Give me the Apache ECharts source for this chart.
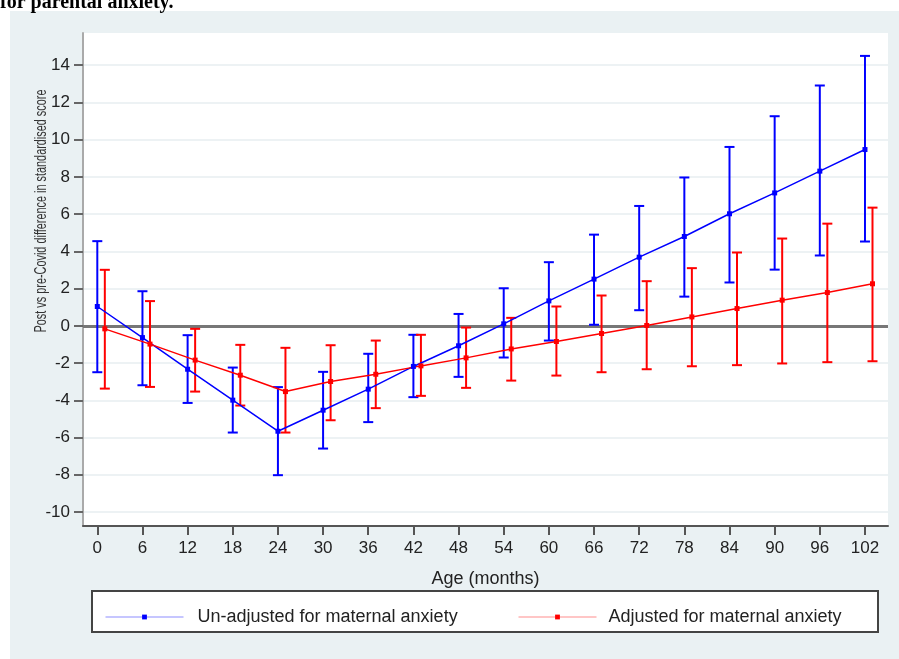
<!DOCTYPE html>
<html><head><meta charset="utf-8">
<script src="https://cdn.jsdelivr.net/npm/echarts@6/dist/echarts.min.js"></script>
<style>html,body{margin:0;padding:0;background:#fff;}#c{width:899px;height:659px;}</style>
</head><body><div id="c"></div>
<script>
const ages = [0,6,12,18,24,30,36,42,48,54,60,66,72,78,84,90,96,102];
const unadjMean = [1.04,-0.63,-2.33,-3.99,-5.66,-4.53,-3.40,-2.18,-1.07,0.11,1.34,2.51,3.69,4.80,6.02,7.14,8.31,9.47];
const unadjHigh = [4.55,1.86,-0.50,-2.24,-3.29,-2.47,-1.50,-0.48,0.64,2.02,3.42,4.90,6.44,7.97,9.61,11.26,12.91,14.50];
const unadjLow  = [-2.49,-3.19,-4.14,-5.73,-8.02,-6.59,-5.17,-3.83,-2.74,-1.70,-0.79,0.06,0.84,1.57,2.33,3.02,3.78,4.53];
const adjMean = [-0.16,-0.98,-1.84,-2.65,-3.53,-2.99,-2.60,-2.15,-1.72,-1.24,-0.84,-0.41,0.02,0.48,0.93,1.38,1.79,2.26];
const adjHigh = [3.01,1.33,-0.16,-1.02,-1.18,-1.04,-0.79,-0.48,-0.09,0.43,1.04,1.63,2.40,3.10,3.94,4.69,5.49,6.35];
const adjLow  = [-3.37,-3.28,-3.53,-4.28,-5.73,-5.07,-4.42,-3.76,-3.33,-2.94,-2.67,-2.49,-2.33,-2.17,-2.11,-2.02,-1.95,-1.90];
const yTicks = [-10,-8,-6,-4,-2,0,2,4,6,8,10,12,14];
const xTicks = ages;
const seriesNames = ['Un-adjusted for maternal anxiety','Adjusted for maternal anxiety'];
const titleText = 'for parental anxiety.';
const yAxisTitle = 'Post vs pre-Covid difference in standardised score';
const xAxisTitle = 'Age (months)';

const RED_OFFSET = 1;
const FONT = 'Liberation Sans, Arial, sans-serif';
const BLUE = '#0000ff', RED = '#ff0000';

function errItem(color){
  return function(params, api){
    const x = api.value(0);
    const lo = api.coord([x, api.value(1)]);
    const hi = api.coord([x, api.value(2)]);
    const w = 5;
    const st = {stroke: color, lineWidth: 2};
    return {type:'group', children:[
      {type:'line', shape:{x1:lo[0],y1:lo[1],x2:hi[0],y2:hi[1]}, style:st},
      {type:'line', shape:{x1:hi[0]-w,y1:hi[1],x2:hi[0]+w,y2:hi[1]}, style:st},
      {type:'line', shape:{x1:lo[0]-w,y1:lo[1],x2:lo[0]+w,y2:lo[1]}, style:st}
    ]};
  };
}

const chart = echarts.init(document.getElementById('c'), null, {renderer:'canvas'});
chart.setOption({
  animation:false,
  backgroundColor:'#ffffff',
  textStyle:{fontFamily:FONT},
  graphic:[
    {type:'rect', z:-10, shape:{x:10,y:11,width:889,height:648}, style:{fill:'#eaf1f3'}},
    {type:'text', left:0, top:-7, style:{text:titleText, font:'bold 20px "Liberation Serif", "Times New Roman", serif', fill:'#000'}},
    {type:'text', x:42, y:211, rotation:Math.PI/2, scaleX:0.68, style:{text:yAxisTitle, font:'16px '+FONT, fill:'#333', align:'center', verticalAlign:'middle'}},
    {type:'rect', z:-5, shape:{x:92,y:591,width:786,height:41}, style:{fill:'#fff', stroke:'#444', lineWidth:2}}
  ],
  grid:{left:83, top:33, right:11, bottom:133, show:true, backgroundColor:'#fff', borderWidth:0},
  legend:[
    {data:[seriesNames[0]], left:100, top:603, itemWidth:78, itemHeight:6, lineStyle:{width:1, opacity:0.45}, textStyle:{fontSize:18, color:'#222', fontFamily:FONT, padding:[0,0,0,9]}},
    {data:[seriesNames[1]], left:513, top:603, itemWidth:78, itemHeight:6, lineStyle:{width:1, opacity:0.45}, textStyle:{fontSize:18, color:'#222', fontFamily:FONT, padding:[0,0,0,7]}}
  ],
  xAxis:{type:'value', min:-1.9, max:105.06,
    name:xAxisTitle, nameLocation:'middle', nameGap:44, nameTextStyle:{fontSize:18, color:'#222'},
    axisLine:{onZero:false, lineStyle:{color:'#555', width:2}},
    axisTick:{customValues:xTicks, length:9, lineStyle:{color:'#555', width:2}},
    axisLabel:{customValues:xTicks, fontSize:17, color:'#222', margin:14},
    splitLine:{show:false}},
  yAxis:{type:'value', min:-10.75, max:15.73,
    axisLine:{show:true, onZero:false, lineStyle:{color:'#aaa', width:2}},
    axisTick:{show:true, customValues:yTicks, length:9, lineStyle:{color:'#666', width:2}},
    axisLabel:{customValues:yTicks, fontSize:17, color:'#222', margin:13},
    splitLine:{show:true, lineStyle:{color:'#edf2f4', width:2}}},
  series:[
    {name:seriesNames[0], type:'line', z:4, data:ages.map((a,i)=>[a,unadjMean[i]]),
      symbol:'rect', symbolSize:5, itemStyle:{color:BLUE}, lineStyle:{color:BLUE, width:1.5},
      markLine:{silent:true, symbol:'none', label:{show:false}, z:1, lineStyle:{color:'#777', width:3, type:'solid'}, data:[{yAxis:0}]}},
    {name:seriesNames[1], type:'line', z:4, data:ages.map((a,i)=>[a+RED_OFFSET,adjMean[i]]),
      symbol:'rect', symbolSize:5, itemStyle:{color:RED}, lineStyle:{color:RED, width:1.5}},
    {type:'custom', z:3, renderItem:errItem(BLUE), data:ages.map((a,i)=>[a,unadjLow[i],unadjHigh[i]]), encode:{x:0,y:[1,2]}},
    {type:'custom', z:3, renderItem:errItem(RED), data:ages.map((a,i)=>[a+RED_OFFSET,adjLow[i],adjHigh[i]]), encode:{x:0,y:[1,2]}}
  ]
});
</script></body></html>
